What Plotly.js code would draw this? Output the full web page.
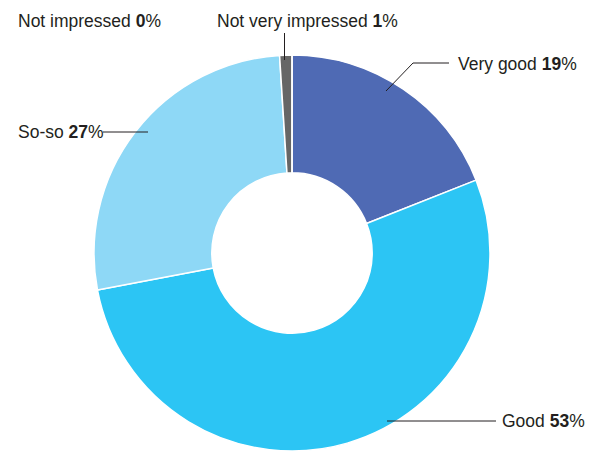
<!DOCTYPE html>
<html>
<head>
<meta charset="utf-8">
<script src="https://cdn.plot.ly/plotly-3.0.1.min.js"></script>
<style>html,body{margin:0;padding:0;background:#fff;}#chart{width:600px;height:452px;}</style>
</head>
<body>
<div id="chart"></div>
<script>
const categories = ["Very good", "Good", "So-so", "Not very impressed", "Not impressed"];
const values = [19, 53, 27, 1, 0];
const colors = ["#4F6AB4", "#2CC5F4", "#8ED8F6", "#666666", "#444444"];

const W = 600, H = 452;
const px = x => x / W;
const py = y => 1 - y / H;

const cx = 292, cy = 253, R = 198;

const labelPos = {
  "Very good": {x: 456, y: 64},
  "Good": {x: 500, y: 421},
  "So-so": {x: 16, y: 132},
  "Not very impressed": {x: 215, y: 21},
  "Not impressed": {x: 16, y: 21}
};

const annotations = categories.map((c, i) => ({
  xref: "paper", yref: "paper",
  x: px(labelPos[c].x), y: py(labelPos[c].y),
  xanchor: "left", yanchor: "middle",
  text: c + " <b>" + values[i] + "</b>%",
  showarrow: false,
  font: {family: "Liberation Sans, Arial, sans-serif", size: 17.5, color: "#231F20"}
}));

const lineStyle = {color: "#231F20", width: 1};
const seg = (x0, y0, x1, y1) => ({type: "line", xref: "paper", yref: "paper",
  x0: px(x0), y0: py(y0), x1: px(x1), y1: py(y1), line: lineStyle});

const shapes = [
  seg(386, 91, 413, 63), seg(413, 63, 449, 63),
  seg(387, 421, 496, 421),
  seg(103, 132, 148, 132),
  seg(284.5, 33, 284.5, 60)
];

Plotly.newPlot("chart", [{
  type: "pie",
  labels: categories,
  values: values,
  hole: 0.405,
  sort: false,
  direction: "clockwise",
  rotation: 0,
  textinfo: "none",
  hoverinfo: "label+percent",
  marker: {colors: colors, line: {color: "#ffffff", width: 1.5}},
  domain: {x: [px(cx - R), px(cx + R)], y: [py(cy + R), py(cy - R)]}
}], {
  width: W, height: H,
  margin: {l: 0, r: 0, t: 0, b: 0},
  showlegend: false,
  paper_bgcolor: "#ffffff",
  annotations: annotations,
  shapes: shapes
}, {displayModeBar: false, staticPlot: true});
</script>
</body>
</html>
